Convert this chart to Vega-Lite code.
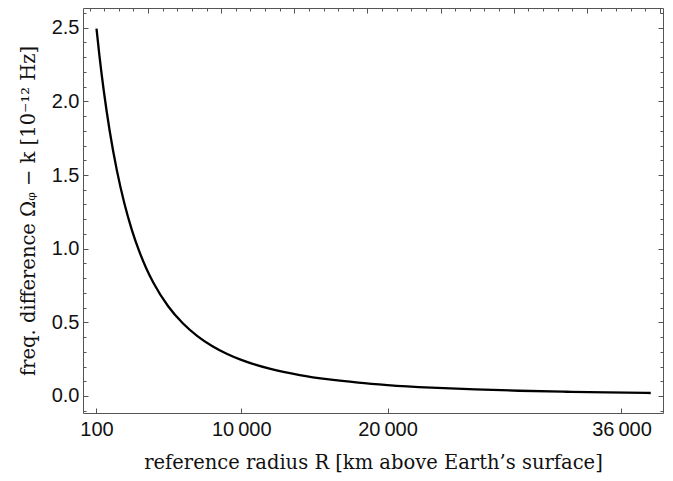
{
  "$schema": "https://vega.github.io/schema/vega-lite/v6.json",
  "width": 580,
  "height": 405,
  "autosize": {"type": "none"},
  "padding": {"left": 83, "top": 8, "right": 10, "bottom": 68},
  "background": "white",
  "config": {
    "view": {"stroke": "#555555", "strokeWidth": 1},
    "axis": {
      "domain": false,
      "grid": false,
      "tickColor": "#555555",
      "labelFont": "Liberation Sans",
      "labelFontSize": 20,
      "labelColor": "#111111",
      "titleFont": "DejaVu Serif",
      "titleFontSize": 19.5,
      "titleFontWeight": "normal",
      "titleColor": "#111111"
    }
  },
  "data": {
    "values": [
      {"R": 100, "f": 2.494},
      {"R": 300, "f": 2.3111},
      {"R": 600, "f": 2.0704},
      {"R": 1000, "f": 1.8009},
      {"R": 1500, "f": 1.5284},
      {"R": 2000, "f": 1.3102},
      {"R": 2500, "f": 1.1333},
      {"R": 3000, "f": 0.9881},
      {"R": 3500, "f": 0.8677},
      {"R": 4000, "f": 0.7669},
      {"R": 5000, "f": 0.6092},
      {"R": 6000, "f": 0.4935},
      {"R": 7000, "f": 0.4064},
      {"R": 8000, "f": 0.3393},
      {"R": 9000, "f": 0.2868},
      {"R": 10000, "f": 0.245},
      {"R": 12000, "f": 0.1836},
      {"R": 14000, "f": 0.1418},
      {"R": 16000, "f": 0.1122},
      {"R": 18000, "f": 0.0906},
      {"R": 20000, "f": 0.0744},
      {"R": 23000, "f": 0.0568},
      {"R": 26000, "f": 0.0445},
      {"R": 29000, "f": 0.0357},
      {"R": 32000, "f": 0.0291},
      {"R": 35000, "f": 0.0241},
      {"R": 38000, "f": 0.0202}
    ]
  },
  "resolve": {"axis": {"x": "independent", "y": "independent"}},
  "layer": [
    {
      "mark": {"type": "line", "color": "#000000", "strokeWidth": 2.3, "interpolate": "monotone", "clip": true},
      "encoding": {
        "x": {
          "field": "R", "type": "quantitative",
          "scale": {"domain": [-823, 38838], "nice": false, "zero": false},
          "axis": {
            "orient": "bottom",
            "values": [100, 10000, 20000, 36000],
            "tickSize": -5,
            "labelPadding": 11,
            "labelExpr": "replace(format(datum.value, ','), ',', '\u2009')",
            "title": "reference radius R [km above Earth’s surface]",
            "titlePadding": 14
          }
        },
        "y": {
          "field": "f", "type": "quantitative",
          "scale": {"domain": [-0.1155, 2.634], "nice": false, "zero": false},
          "axis": {
            "orient": "left",
            "values": [0, 0.5, 1, 1.5, 2, 2.5],
            "format": ".1f",
            "tickSize": -5,
            "labelPadding": 9,
            "title": "freq. difference Ωᵩ − k  [10⁻¹² Hz]",
            "titlePadding": 13
          }
        }
      }
    },
    {
      "mark": {"type": "line", "strokeOpacity": 0},
      "encoding": {
        "x": {
          "field": "R", "type": "quantitative",
          "scale": {"domain": [-823, 38838], "nice": false, "zero": false},
          "axis": {
            "orient": "top",
            "values": [3629, 8629, 13629, 18629, 23629, 28629, 33629, 38629],
            "tickSize": -5,
            "labels": false,
            "title": null
          }
        },
        "y": {
          "field": "f", "type": "quantitative",
          "scale": {"domain": [-0.1155, 2.634], "nice": false, "zero": false},
          "axis": {
            "orient": "left",
            "values": [-0.1, 0.1, 0.2, 0.3, 0.4, 0.6, 0.7, 0.8, 0.9, 1.1, 1.2, 1.3, 1.4, 1.6, 1.7, 1.8, 1.9, 2.1, 2.2, 2.3, 2.4, 2.6],
            "tickSize": -3,
            "labels": false,
            "title": null
          }
        }
      }
    },
    {
      "mark": {"type": "line", "strokeOpacity": 0},
      "encoding": {
        "x": {
          "field": "R", "type": "quantitative",
          "scale": {"domain": [-823, 38838], "nice": false, "zero": false},
          "axis": {
            "orient": "top",
            "values": [-371, 629, 1629, 2629, 4629, 5629, 6629, 7629, 9629, 10629, 11629, 12629, 14629, 15629, 16629, 17629, 19629, 20629, 21629, 22629, 24629, 25629, 26629, 27629, 29629, 30629, 31629, 32629, 34629, 35629, 36629, 37629],
            "tickSize": -3,
            "labels": false,
            "title": null
          }
        },
        "y": {
          "field": "f", "type": "quantitative",
          "scale": {"domain": [-0.1155, 2.634], "nice": false, "zero": false},
          "axis": {
            "orient": "right",
            "values": [0, 0.5, 1, 1.5, 2, 2.5],
            "tickSize": -5,
            "labels": false,
            "title": null
          }
        }
      }
    },
    {
      "mark": {"type": "line", "strokeOpacity": 0},
      "encoding": {
        "x": {
          "field": "R", "type": "quantitative",
          "scale": {"domain": [-823, 38838], "nice": false, "zero": false},
          "axis": null
        },
        "y": {
          "field": "f", "type": "quantitative",
          "scale": {"domain": [-0.1155, 2.634], "nice": false, "zero": false},
          "axis": {
            "orient": "right",
            "values": [-0.1, 0.1, 0.2, 0.3, 0.4, 0.6, 0.7, 0.8, 0.9, 1.1, 1.2, 1.3, 1.4, 1.6, 1.7, 1.8, 1.9, 2.1, 2.2, 2.3, 2.4, 2.6],
            "tickSize": -3,
            "labels": false,
            "title": null
          }
        }
      }
    }
  ]
}
